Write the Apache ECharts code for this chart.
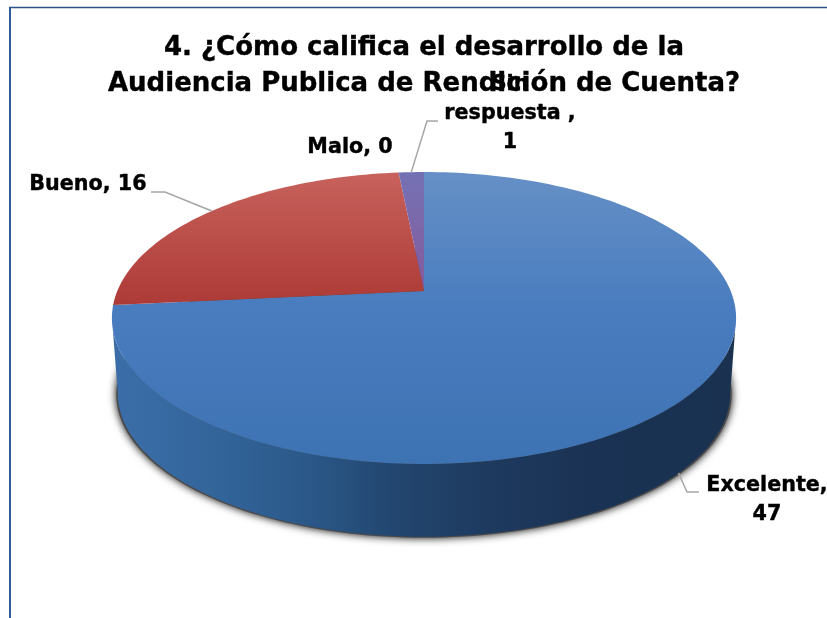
<!DOCTYPE html>
<html>
<head>
<meta charset="utf-8">
<style>html,body{margin:0;padding:0;background:#fff}#chart{position:absolute;left:0;top:0;width:827px;height:618px}</style>
<script src="https://cdn.jsdelivr.net/npm/echarts@6/dist/echarts.min.js"></script>
</head>
<body>
<div id="chart"></div>
<script>
// Survey answers
const categories = ['Excelente', 'Bueno', 'Malo', 'Sin respuesta'];
const values = [47, 16, 0, 1];
const titleLines = ['4. ¿Cómo califica el desarrollo de la', 'Audiencia Publica de Rendición de Cuenta?'];

// Label text as wrapped on the chart
const labelLines = [['Excelente,', '47'], ['Bueno, 16'], ['Malo, 0'], ['Sin', 'respuesta ,', '1']];

// Label anchors and elbow of each leader line
const labelAnchors = [[767, 471], [88, 170], [350, 133], [510, 70]];
const leaderElbows = [[[687, 492], [699, 492]], [[165, 192], [151, 192]], null, [[427, 121], [438, 121]]];

// Perspective disc used for the top face and the lower rim
const disc = { cx: 424, cy: 291, a: 141, b: 306.7, k: 0.185 };
const rim = { scale: 0.981, cy: 367 };
const TOTAL = values.reduce((s, v) => s + v, 0);

function project(deg, lower) {
  const t = deg * Math.PI / 180;
  const X = Math.sin(t), Y = Math.cos(t);
  const w = 1 + disc.k * Y;
  const s = lower ? rim.scale : 1;
  const cy = lower ? rim.cy : disc.cy;
  return [disc.cx + disc.b * s * X / w, cy - disc.a * s * Y / w];
}

function arc(from, to, lower) {
  const pts = [];
  const n = Math.max(2, Math.ceil(Math.abs(to - from) / 1.5));
  for (let i = 0; i <= n; i++) pts.push(project(from + (to - from) * i / n, lower));
  return pts;
}

const global = (x, y, x2, y2, stops) => ({
  type: 'linear', x, y, x2, y2, global: true,
  colorStops: stops.map(([offset, color]) => ({ offset, color }))
});

const faceFill = [
  global(0, 172, 0, 464, [[0, '#6690c6'], [0.45, '#4a7dbf'], [1, '#3d72b3']]),
  global(0, 172, 0, 305, [[0, '#c8625c'], [1, '#ad3a36']]),
  global(0, 172, 0, 291, [[0, '#8064b0'], [1, '#80609f']]),
  global(0, 172, 0, 291, [[0, '#7472b4'], [1, '#865a9c']])
];

const wallFill = global(115, 0, 735, 0, [
  [0, '#3b6ea8'], [0.16, '#33659b'], [0.32, '#2a5787'], [0.45, '#22466f'],
  [0.6, '#1e3a5f'], [0.78, '#1a3253'], [1, '#1a3250']
]);

const startAngles = [];
values.reduce((acc, v, i) => { startAngles[i] = acc; return acc + v / TOTAL * 360; }, 0);

function renderSlice(params, api) {
  const i = api.value(0);
  const value = api.value(1);
  const start = startAngles[i];
  const sweep = value / TOTAL * 360;
  const mid = start + sweep / 2;
  const children = [];

  // The front wall and its cast shadow sit under the largest slice
  if (i === 0) {
    const right = 100.7, left = 259.3;
    const bottom = arc(right, left, true);
    const top = arc(right, left, false);
    children.push({
      type: 'polygon', z2: 1,
      shape: { points: arc(0, 360, true).map(p => [disc.cx + (p[0] - disc.cx) * 1.005, p[1] + 1]) },
      style: { fill: '#4a4a4a', shadowBlur: 8, shadowColor: '#000' }
    });
    children.push({
      type: 'polygon', z2: 2,
      shape: { points: top.concat(bottom.reverse()) },
      style: { fill: wallFill }
    });
  }

  if (sweep > 0) {
    children.push({
      type: 'polygon', z2: 3,
      shape: { points: [[disc.cx, disc.cy]].concat(arc(start, start + sweep, false)) },
      style: { fill: faceFill[i] }
    });
  }

  // Leader line from the slice edge to the elbow next to its label
  if (leaderElbows[i]) {
    const origin = i === 0 ? project(mid, true) : project(mid, false);
    children.push({
      type: 'polyline', z2: 4,
      shape: { points: [origin].concat(leaderElbows[i]) },
      style: { fill: 'none', stroke: '#a6a6a6', lineWidth: 1.5 }
    });
  }

  children.push({
    type: 'text', z2: 5,
    x: labelAnchors[i][0], y: labelAnchors[i][1],
    style: {
      text: labelLines[i].join('\n'),
      font: 'bold 20.7px "DejaVu Sans"', fill: '#000',
      stroke: '#000', lineWidth: 0.4,
      align: 'center', lineHeight: 29
    }
  });
  return { type: 'group', children };
}

const chart = echarts.init(document.getElementById('chart'), null, { renderer: 'canvas' });
chart.setOption({
  animation: false,
  backgroundColor: '#ffffff',
  title: {
    text: titleLines.join('\n'),
    left: 419, top: 25, textAlign: 'center',
    textStyle: {
      fontFamily: 'DejaVu Sans', fontWeight: 'bold', fontSize: 26, lineHeight: 36, color: '#000',
      textBorderColor: '#000', textBorderWidth: 0.4
    }
  },
  // Frame of the chart area, open at the right and bottom
  graphic: [
    { type: 'line', silent: true, shape: { x1: 10, y1: 7, x2: 10, y2: 618 }, style: { stroke: '#2f5c97', lineWidth: 2 } },
    { type: 'line', silent: true, shape: { x1: 9, y1: 7.5, x2: 827, y2: 7.5 }, style: { stroke: '#2a5288', lineWidth: 1.5 } }
  ],
  series: [{
    type: 'custom',
    coordinateSystem: 'none',
    silent: true,
    data: categories.map((name, i) => ({ name, value: [i, values[i]] })),
    renderItem: renderSlice
  }]
});
</script>
</body>
</html>
